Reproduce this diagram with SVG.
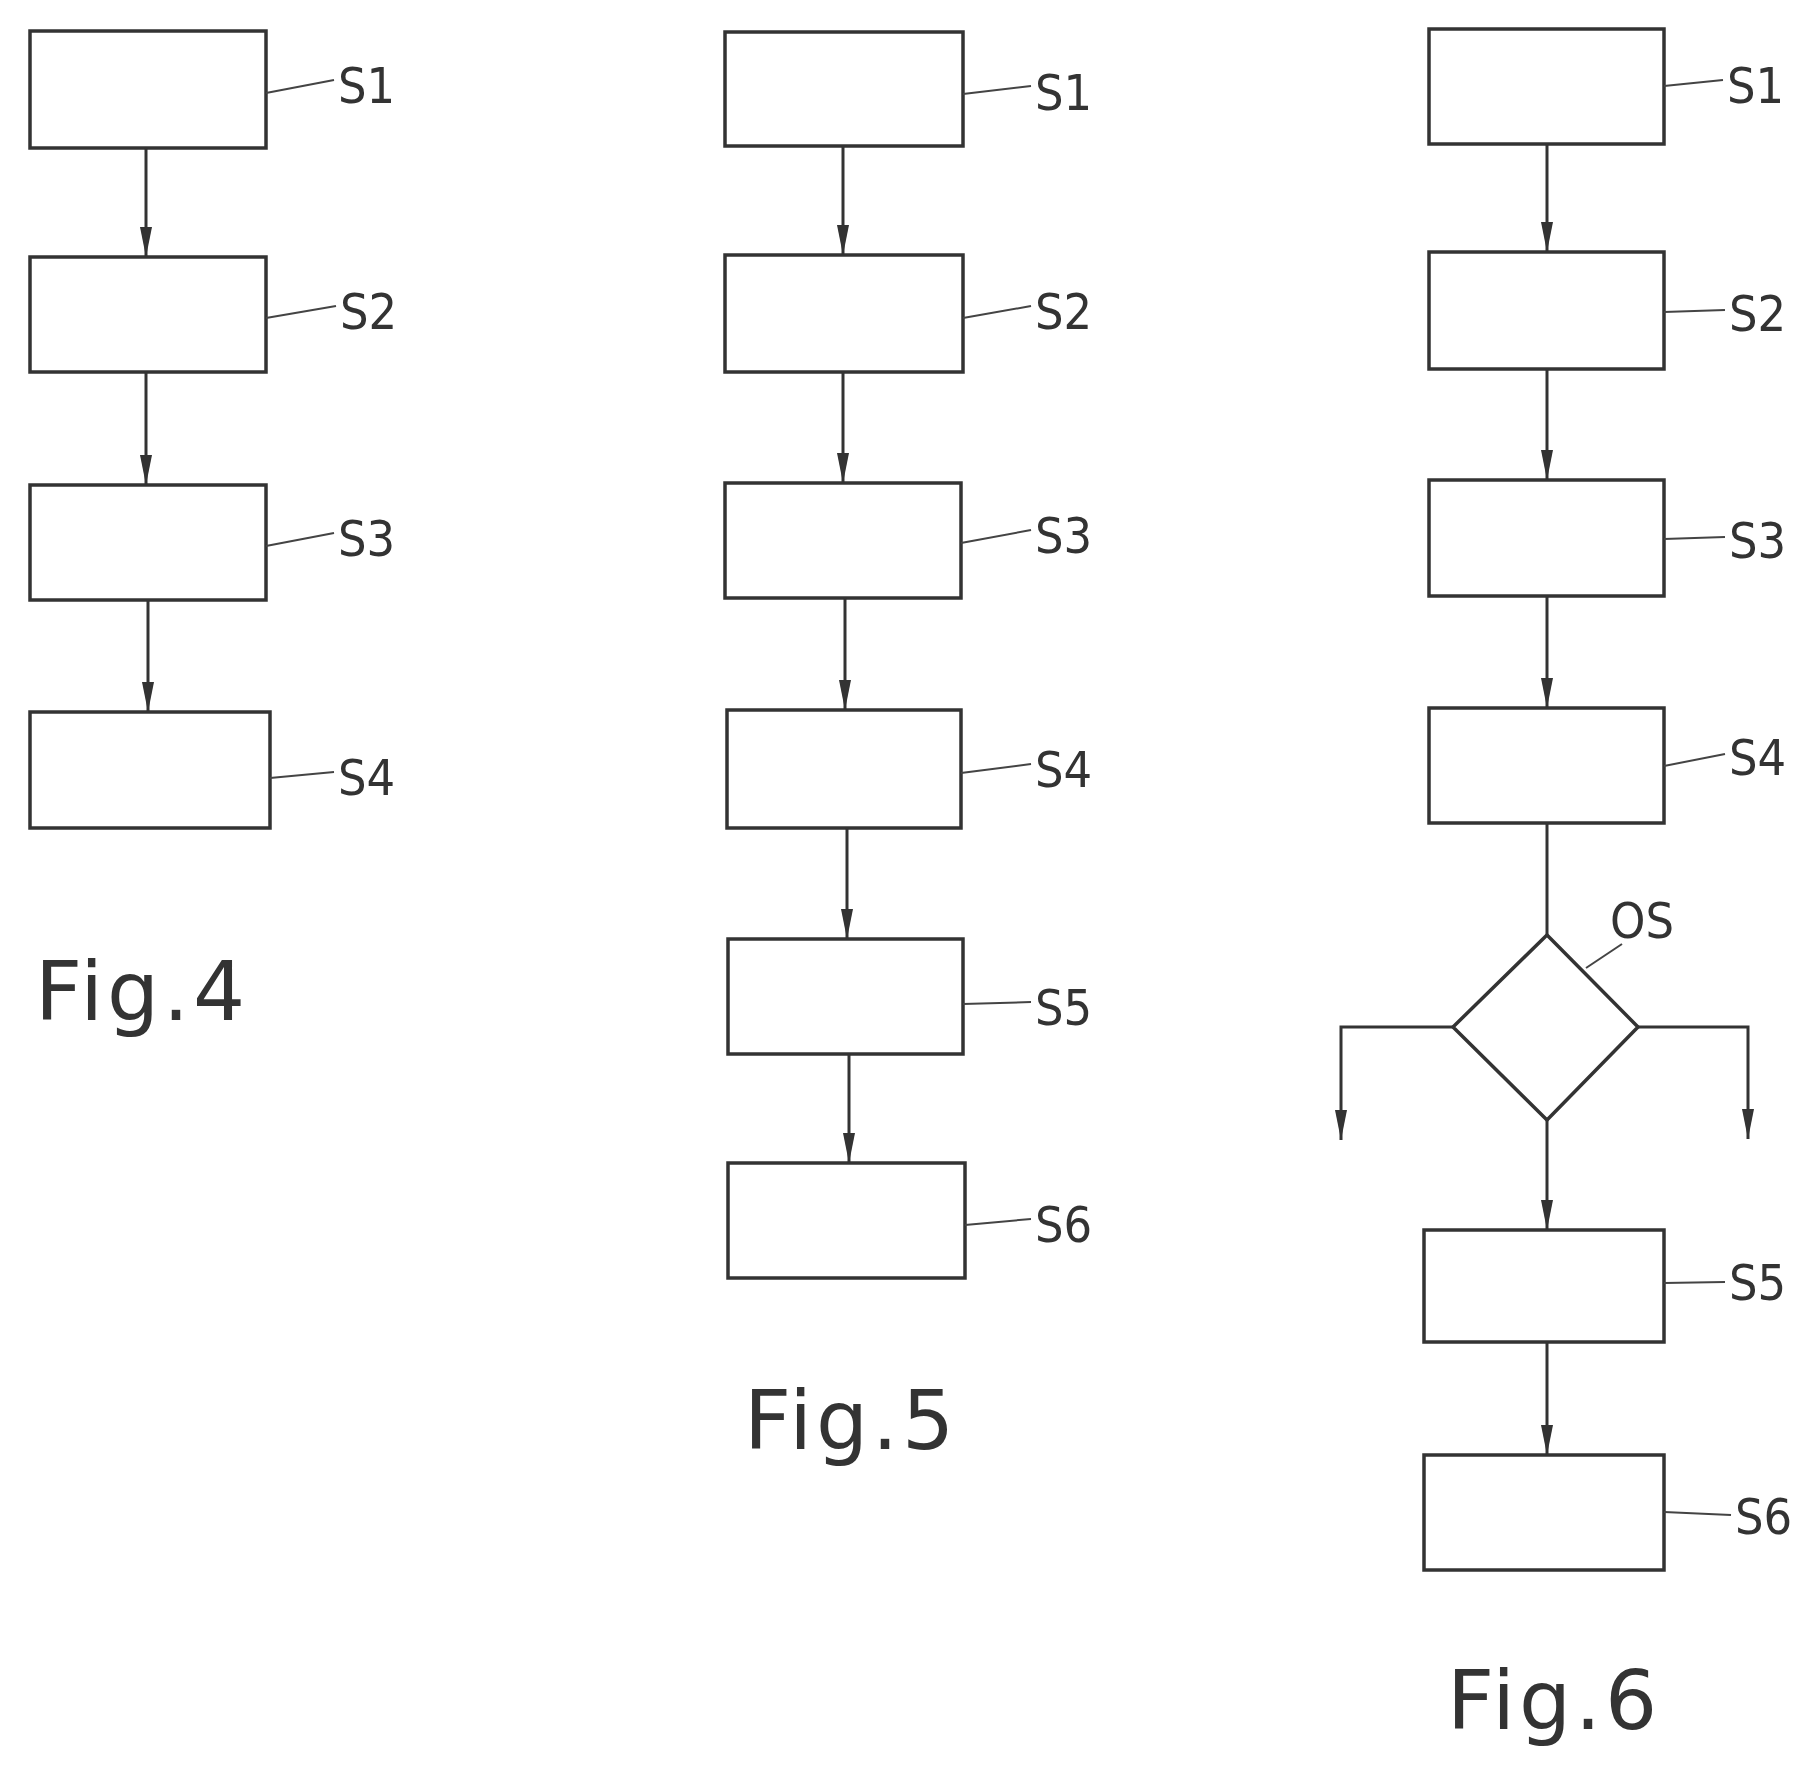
<svg xmlns="http://www.w3.org/2000/svg" width="1808" height="1786" viewBox="0 0 1808 1786">
<style>
.b{fill:none;stroke:#333;stroke-width:3.5}
.c{fill:none;stroke:#333;stroke-width:3}
.l{fill:none;stroke:#444;stroke-width:2}
.t{font-family:"DejaVu Sans Condensed","DejaVu Sans",sans-serif;font-size:50px;fill:#333}
.f{font-family:"DejaVu Sans","Liberation Sans",sans-serif;font-size:82px;fill:#333;letter-spacing:4px}
</style>
<defs><marker id="a" markerWidth="12" markerHeight="30" refX="6" refY="28" orient="auto-start-reverse" markerUnits="userSpaceOnUse" viewBox="0 0 12 30"><path d="M0,0 L12,0 L6,30 Z" fill="#333" transform="rotate(-90 6 15) translate(0 0)"/></marker>
<marker id="v" markerWidth="14" markerHeight="30" refX="7" refY="30" orient="0" markerUnits="userSpaceOnUse" viewBox="0 0 14 30"><path d="M1,0 L13,0 L7,30 Z" fill="#333"/></marker></defs>
<g id="fig4">
<g id="f4s1"><rect class="b" x="30" y="31" width="236" height="117"/><path class="l" d="M266,93 L334,80"/><text class="t" x="338" y="103">S1</text></g>
<g id="f4s2"><rect class="b" x="30" y="257" width="236" height="115"/><path class="l" d="M266,318 L336,306"/><text class="t" x="340" y="329">S2</text></g>
<g id="f4s3"><rect class="b" x="30" y="485" width="236" height="115"/><path class="l" d="M266,546 L334,533"/><text class="t" x="338" y="556">S3</text></g>
<g id="f4s4"><rect class="b" x="30" y="712" width="240" height="116"/><path class="l" d="M270,778 L334,772"/><text class="t" x="338" y="795">S4</text></g>
<text class="f" x="35" y="1020">Fig.4</text>
</g>
<g id="fig5">
<g id="f5s1"><rect class="b" x="725" y="32" width="238" height="114"/><path class="l" d="M963,94 L1031,86"/><text class="t" x="1035" y="110">S1</text></g>
<g id="f5s2"><rect class="b" x="725" y="255" width="238" height="117"/><path class="l" d="M963,318 L1031,306"/><text class="t" x="1035" y="329">S2</text></g>
<g id="f5s3"><rect class="b" x="725" y="483" width="236" height="115"/><path class="l" d="M961,543 L1031,530"/><text class="t" x="1035" y="553">S3</text></g>
<g id="f5s4"><rect class="b" x="727" y="710" width="234" height="118"/><path class="l" d="M961,773 L1031,764"/><text class="t" x="1035" y="787">S4</text></g>
<g id="f5s5"><rect class="b" x="728" y="939" width="235" height="115"/><path class="l" d="M963,1004 L1031,1002"/><text class="t" x="1035" y="1025">S5</text></g>
<g id="f5s6"><rect class="b" x="728" y="1163" width="237" height="115"/><path class="l" d="M965,1225 L1031,1219"/><text class="t" x="1035" y="1242">S6</text></g>
<text class="f" x="744" y="1449">Fig.5</text>
</g>
<g id="fig6">
<g id="f6s1"><rect class="b" x="1429" y="29" width="235" height="115"/><path class="l" d="M1664,86 L1723,80"/><text class="t" x="1727" y="103">S1</text></g>
<g id="f6s2"><rect class="b" x="1429" y="252" width="235" height="117"/><path class="l" d="M1664,312 L1725,310"/><text class="t" x="1729" y="331">S2</text></g>
<g id="f6s3"><rect class="b" x="1429" y="480" width="235" height="116"/><path class="l" d="M1664,539 L1725,537"/><text class="t" x="1729" y="558">S3</text></g>
<g id="f6s4"><rect class="b" x="1429" y="708" width="235" height="115"/><path class="l" d="M1664,766 L1725,754"/><text class="t" x="1729" y="775">S4</text></g>
<g id="f6os"><path class="b" d="M1547,935 L1638,1027 L1547,1120 L1453,1027 Z"/><path class="l" d="M1586,968 L1622,944"/><text class="t" x="1610" y="938">OS</text></g>
<g id="f6s5"><rect class="b" x="1424" y="1230" width="240" height="112"/><path class="l" d="M1664,1283 L1725,1282"/><text class="t" x="1729" y="1300">S5</text></g>
<g id="f6s6"><rect class="b" x="1424" y="1455" width="240" height="115"/><path class="l" d="M1664,1512 L1731,1515"/><text class="t" x="1735" y="1534">S6</text></g>
<text class="f" x="1447" y="1729">Fig.6</text>
</g>
<g id="connectors">
<path class="c" marker-end="url(#v)" d="M146,148 L146,257"/>
<path class="c" marker-end="url(#v)" d="M146,372 L146,485"/>
<path class="c" marker-end="url(#v)" d="M148,600 L148,712"/>
<path class="c" marker-end="url(#v)" d="M843,146 L843,255"/>
<path class="c" marker-end="url(#v)" d="M843,372 L843,483"/>
<path class="c" marker-end="url(#v)" d="M845,598 L845,710"/>
<path class="c" marker-end="url(#v)" d="M847,828 L847,939"/>
<path class="c" marker-end="url(#v)" d="M849,1054 L849,1163"/>
<path class="c" marker-end="url(#v)" d="M1547,144 L1547,252"/>
<path class="c" marker-end="url(#v)" d="M1547,369 L1547,480"/>
<path class="c" marker-end="url(#v)" d="M1547,596 L1547,708"/>
<path class="c" d="M1547,823 L1547,935"/>
<path class="c" marker-end="url(#v)" d="M1453,1027 L1341,1027 L1341,1140"/>
<path class="c" marker-end="url(#v)" d="M1638,1027 L1748,1027 L1748,1139"/>
<path class="c" marker-end="url(#v)" d="M1547,1120 L1547,1230"/>
<path class="c" marker-end="url(#v)" d="M1547,1342 L1547,1455"/>
</g>
</svg>
